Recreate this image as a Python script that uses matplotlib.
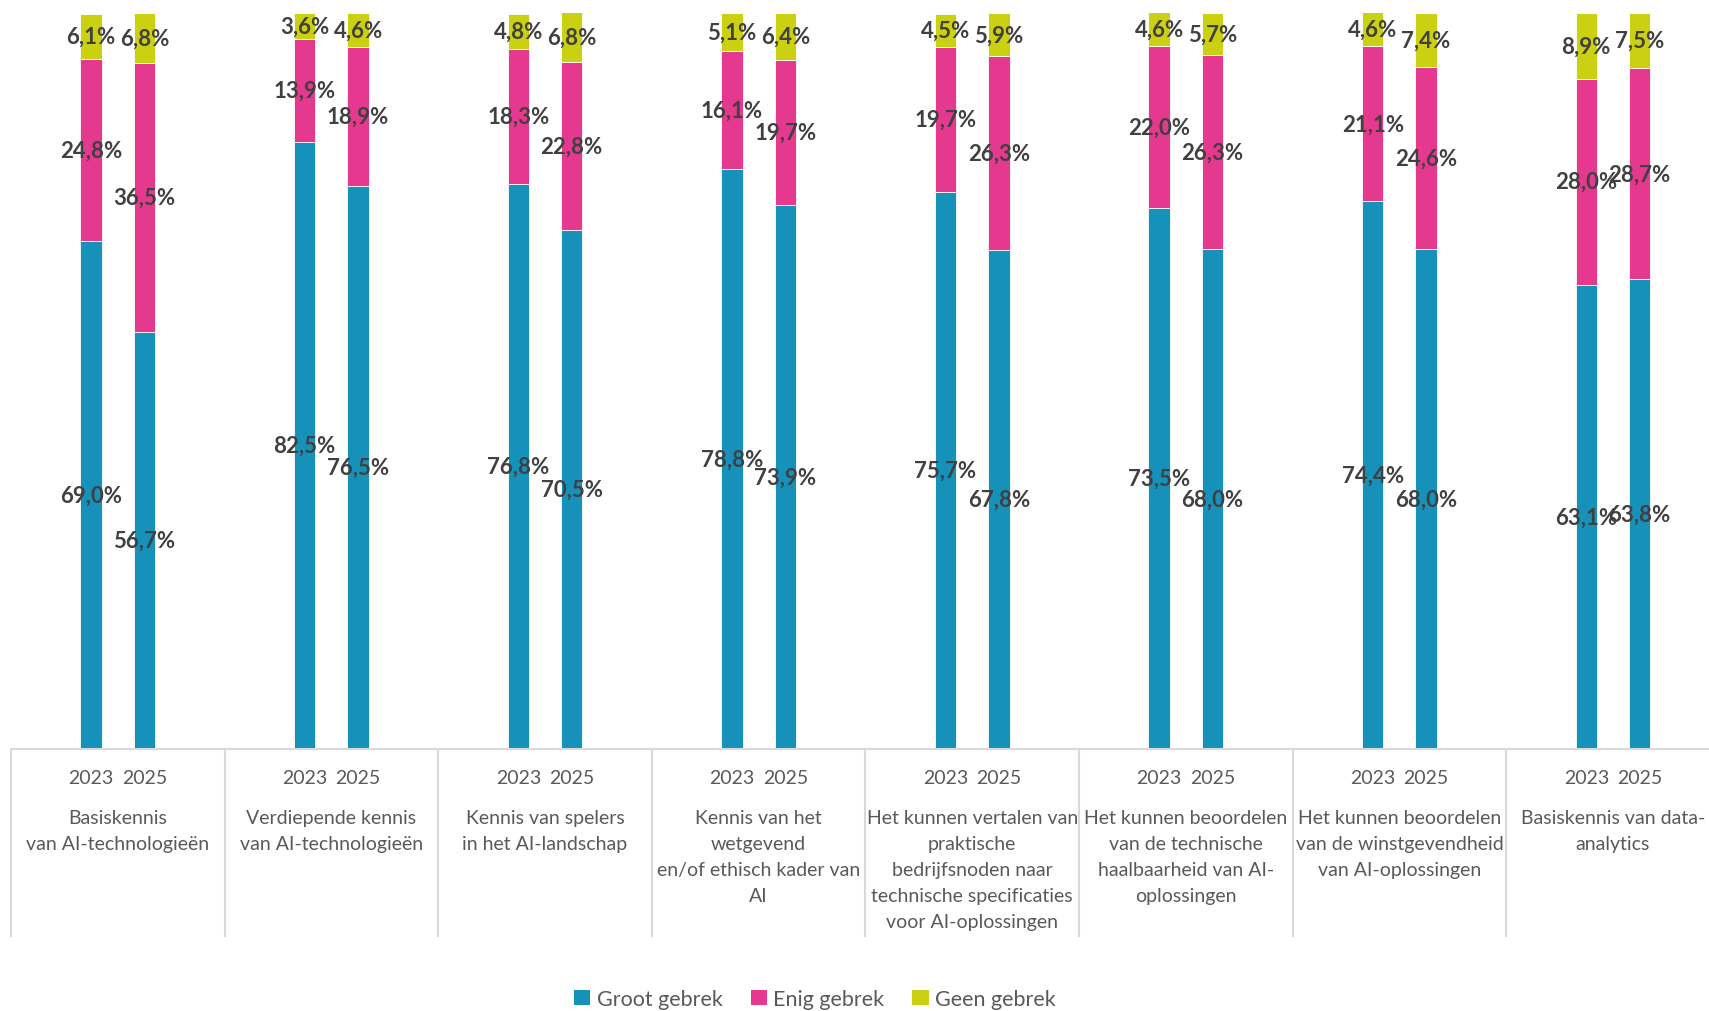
import matplotlib
matplotlib.use("Agg")
import matplotlib.pyplot as plt
from matplotlib.lines import Line2D
from matplotlib.patches import Patch
from matplotlib.transforms import blended_transform_factory
import numpy as np

plt.rcParams['font.family'] = ['Lato', 'DejaVu Sans']

categories = [
    "Basiskennis\nvan AI-technologieën",
    "Verdiepende kennis\nvan AI-technologieën",
    "Kennis van spelers\nin het AI-landschap",
    "Kennis van het\nwetgevend\nen/of ethisch kader van\nAI",
    "Het kunnen vertalen van\npraktische\nbedrijfsnoden naar\ntechnische specificaties\nvoor AI-oplossingen",
    "Het kunnen beoordelen\nvan de technische\nhaalbaarheid van AI-\noplossingen",
    "Het kunnen beoordelen\nvan de winstgevendheid\nvan AI-oplossingen",
    "Basiskennis van data-\nanalytics",
]
years = ["2023", "2025"]
series_names = ["Groot gebrek", "Enig gebrek", "Geen gebrek"]

groot_2023 = [69.0, 82.5, 76.8, 78.8, 75.7, 73.5, 74.4, 63.1]
enig_2023 = [24.8, 13.9, 18.3, 16.1, 19.7, 22.0, 21.1, 28.0]
geen_2023 = [6.1, 3.6, 4.8, 5.1, 4.5, 4.6, 4.6, 8.9]

groot_2025 = [56.7, 76.5, 70.5, 73.9, 67.8, 68.0, 68.0, 63.8]
enig_2025 = [36.5, 18.9, 22.8, 19.7, 26.3, 26.3, 24.6, 28.7]
geen_2025 = [6.8, 4.6, 6.8, 6.4, 5.9, 5.7, 7.4, 7.5]

colors = ["#1591BA", "#E5388F", "#CBD011"]
value_color = "#404040"
axis_text_color = "#595959"
grid_color = "#D9D9D9"

W, H = 1709, 1012
fig = plt.figure(figsize=(W / 100, H / 100), dpi=100)

left_px, right_px = 11, 11 + 8 * 213.6
bottom_px, top_px = 750, 14
ax = fig.add_axes([left_px / W, 1 - bottom_px / H,
                   (right_px - left_px) / W, (bottom_px - top_px) / H])
ax.set_xlim(0, 8)
ax.set_ylim(0, 100)
ax.axis("off")

bar_w = 0.101
offsets = [-0.125, 0.125]
data_by_year = [
    [groot_2023, enig_2023, geen_2023],
    [groot_2025, enig_2025, geen_2025],
]

centers = np.arange(len(categories)) + 0.5
for yi, series in enumerate(data_by_year):
    xs = centers + offsets[yi]
    bottom = np.zeros(len(categories))
    for si, vals in enumerate(series):
        vals = np.array(vals)
        ax.bar(xs, vals, bar_w, bottom=bottom, color=colors[si],
               edgecolor="white", linewidth=0.6)
        for x, b, v in zip(xs, bottom, vals):
            ax.text(x, b + v / 2, f"{v:.1f}%".replace(".", ","),
                    ha="center", va="center", fontsize=16,
                    fontweight="bold", color=value_color)
        bottom += vals

# category axis: baseline, group dividers, year and category labels
tr = blended_transform_factory(ax.transData, fig.transFigure)
y_axis = 1 - bottom_px / H
y_div_end = 1 - 937 / H
fig.add_artist(Line2D([0, 8], [y_axis, y_axis], transform=tr,
                      color=grid_color, lw=1.5))
for gx in range(0, 9):
    fig.add_artist(Line2D([gx, gx], [y_axis, y_div_end], transform=tr,
                          color=grid_color, lw=1.5))

for c, label in zip(centers, categories):
    for yi, yr in enumerate(years):
        fig.text(c + offsets[yi], 1 - 779 / H, yr, transform=tr,
                 ha="center", va="center", fontsize=14,
                 color=axis_text_color)
    fig.text(c, 1 - 810 / H, label, transform=tr, ha="center", va="top",
             fontsize=14, color=axis_text_color, linespacing=1.64)

handles = [Patch(facecolor=col, edgecolor="none") for col in colors]
fig.legend(handles, series_names, loc="center",
           bbox_to_anchor=(815 / W, 1 - 1000 / H), ncol=3, frameon=False,
           fontsize=15.5, labelcolor=axis_text_color, handlelength=0.75,
           handleheight=0.75, handletextpad=0.3, columnspacing=1.3)

fig.savefig("out.png", dpi=100)
